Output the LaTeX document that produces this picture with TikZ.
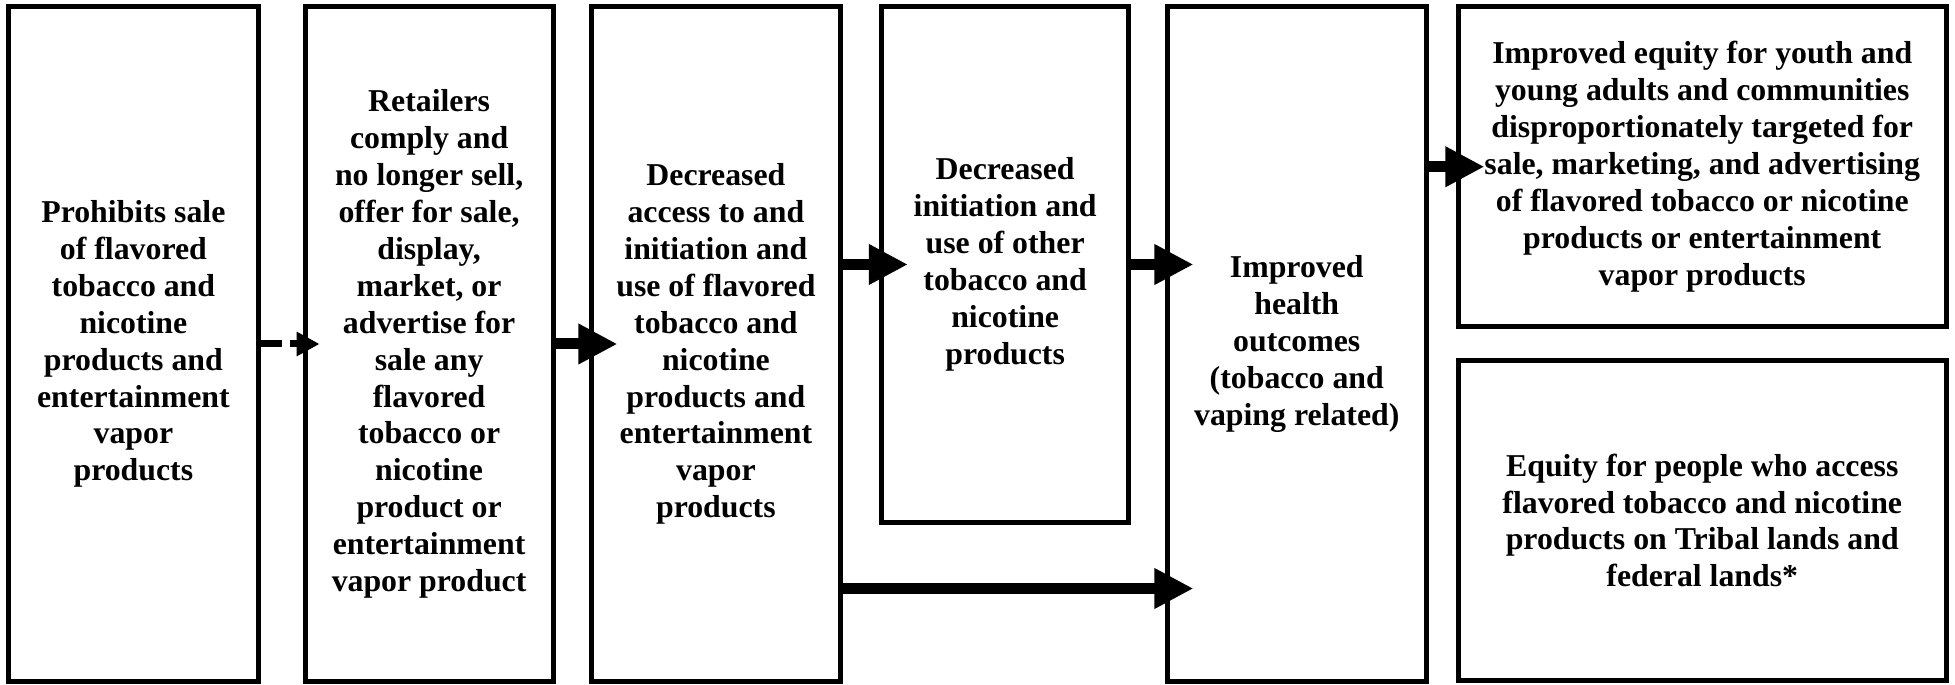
\documentclass[tikz,border=0pt]{standalone}
\usepackage{fontspec}
\setmainfont{Liberation Serif}
\usetikzlibrary{arrows.meta,positioning}

\begin{document}
\begin{tikzpicture}[
  node distance=4mm,
  box/.style={draw,line width=0.5mm,inner sep=0pt,outer sep=0pt,align=center,
    font=\fontsize{9.05pt}{10.5pt}\selectfont\bfseries,
    execute at begin node=\rule{0pt}{10pt},
    minimum height=67.5mm},
  ar/.style={-{Triangle[length=3.9mm,width=3.8mm]},line width=1.1mm,shorten >=-2.6mm},
  dar/.style={-{Triangle[length=2.3mm,width=2.3mm]},line width=0.7mm,
    dash pattern=on 2.35mm off 0.85mm,shorten >=-1.45mm}
]
\useasboundingbox (0,0) rectangle (19.55,-6.85);
\node[box,minimum width=25mm,anchor=north west] (b1) at (0.084,-0.065)
  {Prohibits sale\\of flavored\\tobacco and\\nicotine\\products and\\entertainment\\vapor\\products};
\node[box,minimum width=24.8mm,right=4.67mm of b1] (b2)
  {Retailers\\comply and\\no longer sell,\\offer for sale,\\display,\\market, or\\advertise for\\sale any\\flavored\\tobacco or\\nicotine\\product or\\entertainment\\vapor product};
\node[box,minimum width=24.9mm,right=3.83mm of b2] (b3)
  {Decreased\\access to and\\initiation and\\use of flavored\\tobacco and\\nicotine\\products and\\entertainment\\vapor\\products};
\node[box,minimum width=24.65mm,minimum height=51.6mm,right=4.15mm of b3.north east,anchor=north west] (b4)
  {Decreased\\initiation and\\use of other\\tobacco and\\nicotine\\products};
\node[box,minimum width=25.87mm,right=3.9mm of b4.north east,anchor=north west] (b5)
  {Improved\\health\\outcomes\\(tobacco and\\vaping related)};
\node[box,minimum width=48.77mm,minimum height=32.05mm,right=3.23mm of b5.north east,anchor=north west] (b6)
  {Improved equity for youth and\\young adults and communities\\disproportionately targeted for\\sale, marketing, and advertising\\of flavored tobacco or nicotine\\products or entertainment\\vapor products};
\node[box,minimum width=48.77mm,minimum height=31.9mm,below=3.4mm of b6] (b7)
  {Equity for people who access\\flavored tobacco and nicotine\\products on Tribal lands and\\federal lands*};
% connectors
\draw[dar] (b1) -- (b2);
\draw[ar] (b2) -- (b3);
\draw[ar] (b3.east |- b4.west) -- (b4.west);
\draw[ar] (b4.east) -- (b4.east -| b5.west);
\draw[ar] ([yshift=-24.45mm]b3.east) -- ([yshift=-24.45mm]b5.west);
\draw[ar] (b5.east |- b6.west) -- (b6.west);
\end{tikzpicture}
\end{document}
